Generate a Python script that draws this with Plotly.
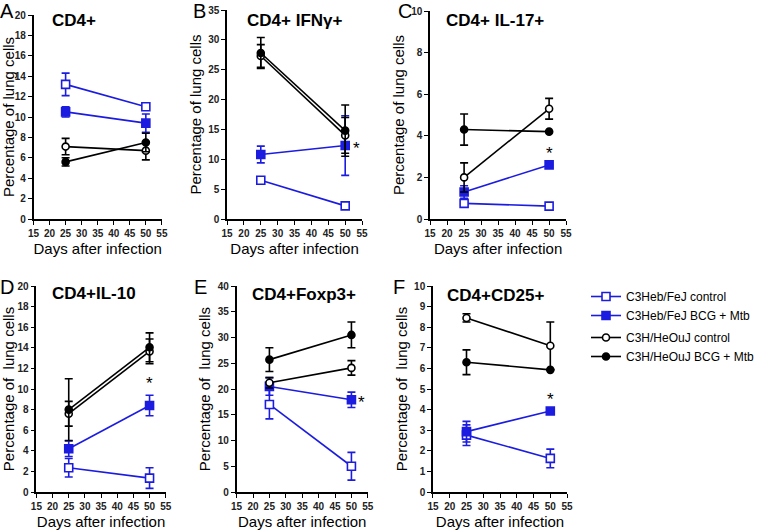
import plotly.graph_objects as go

# days sampled
DAYS = [25, 50]

SERIES = ["C3Heb/FeJ control", "C3Heb/FeJ BCG + Mtb",
          "C3H/HeOuJ control", "C3H/HeOuJ BCG + Mtb"]

# mean values, one row per series (order as SERIES)
A_MEAN = [[13.2, 11.0], [10.5, 9.4], [7.1, 6.7], [5.6, 7.5]]
A_ERR = [[1.1, 0.2], [0.5, 0.9], [0.8, 0.9], [0.4, 0.9]]

B_MEAN = [[6.5, 2.2], [10.8, 12.3], [27.3, 14.0], [27.8, 14.8]]
B_ERR = [[0.5, 0.3], [1.4, 5.0], [1.9, 3.0], [2.6, 4.3]]

C_MEAN = [[0.75, 0.62], [1.3, 2.6], [2.0, 5.3], [4.3, 4.2]]
C_ERR = [[0.1, 0.05], [0.3, 0.0], [0.7, 0.5], [0.75, 0.0]]

D_MEAN = [[2.35, 1.35], [4.2, 8.4], [7.6, 13.65], [8.0, 14.05]]
D_ERR = [[0.9, 1.0], [0.75, 1.0], [1.2, 1.2], [3.0, 1.4]]

E_MEAN = [[17.0, 5.0], [20.5, 17.9], [21.2, 24.1], [25.7, 30.5]]
E_ERR = [[2.8, 2.7], [1.7, 1.5], [1.0, 1.4], [2.3, 2.5]]

F_MEAN = [[2.76, 1.63], [2.93, 3.93], [8.45, 7.1], [6.3, 5.93]]
F_ERR = [[0.5, 0.45], [0.5, 0.0], [0.2, 1.15], [0.6, 0.0]]

BLUE = "#1c1ce0"
FONT = "Liberation Sans, Arial, sans-serif"
NARROW = "Liberation Sans Narrow, Arial Narrow, Liberation Sans, Arial"

W, H = 760, 532


def dom_x(a, b):
    return [a / W, b / W]


def dom_y(top, bottom):
    return [1 - bottom / H, 1 - top / H]


panels = [
    # letter, title, means, errs, ymax, dtick, xdom(px), ydom(px), ytitle,
    # star, letter pos(px), title centre(px)
    ("A", "CD4+", A_MEAN, A_ERR, 20, 2, (35, 169), (15, 219),
     "Percentage of lung cells", None, (7, 11), (77, 20)),
    ("B", "CD4+ IFNγ+", B_MEAN, B_ERR, 35, 5, (237, 378), (10, 219),
     "Percentage of lung cells", "right", (208, 11), (307, 20)),
    ("C", "CD4+ IL-17+", C_MEAN, C_ERR, 10, 2, (449, 591), (11, 219),
     "Percentage of lung cells", "top", (423, 11), (517, 20)),
    ("D", "CD4+IL-10", D_MEAN, D_ERR, 20, 2, (38, 173), (286, 492),
     "Percentage of  lung cells", "top", (7, 287), (98, 293)),
    ("E", "CD4+Foxp3+", E_MEAN, E_ERR, 40, 5, (247, 384), (286, 492),
     "Percentage of  lung cells", "right", (209, 287), (317, 294)),
    ("F", "CD4+CD25+", F_MEAN, F_ERR, 10, 1, (452, 592), (286, 492),
     "Percentage of  lung cells", "top", (417, 287), (517, 295)),
]

styles = [
    dict(color=BLUE, symbol="square", fill="white", size=8),
    dict(color=BLUE, symbol="square", fill=BLUE, size=8),
    dict(color="black", symbol="circle", fill="white", size=7),
    dict(color="black", symbol="circle", fill="black", size=7),
]
groups = ["heb", "heb", "hou", "hou"]

fig = go.Figure()
layout = {}
annotations = []

for i, (letter, title, means, errs, ymax, dtick, xd, yd, ytitle, star,
        lpos, tpos) in enumerate(panels):
    n = "" if i == 0 else str(i + 1)
    xa, ya = "x" + n, "y" + n
    for s in range(4):
        st = styles[s]
        fig.add_trace(go.Scatter(
            x=DAYS, y=means[s], xaxis=xa, yaxis=ya,
            mode="lines+markers", name=SERIES[s],
            legendgroup=groups[s], showlegend=(i == 0),
            line=dict(color=st["color"], width=1.6),
            marker=dict(symbol=st["symbol"], size=st["size"], color=st["fill"],
                        line=dict(color=st["color"], width=1.6)),
            error_y=dict(type="data", array=errs[s], color=st["color"],
                         thickness=1.6, width=4),
        ))
    tickfont = dict(family=NARROW, size=10, color="#222", weight="bold")
    layout["xaxis" + n] = dict(
        domain=dom_x(*xd), anchor=ya, range=[15, 55], dtick=5, tick0=15,
        showline=True, linecolor="black", linewidth=1.5, ticks="outside",
        ticklen=4, tickwidth=1.2, tickcolor="black", showgrid=False,
        zeroline=False, tickfont=tickfont,
        title=dict(text="Days after infection", standoff=6,
                   font=dict(family=FONT, size=15, color="black")),
        automargin=False,
    )
    layout["yaxis" + n] = dict(
        domain=dom_y(*yd), anchor=xa, range=[0, ymax], dtick=dtick,
        showline=True, linecolor="black", linewidth=1.5, ticks="outside",
        ticklen=4, tickwidth=1.2, tickcolor="black", showgrid=False,
        zeroline=False, tickfont=tickfont,
        title=dict(text=ytitle, standoff=3,
                   font=dict(family=FONT, size=15, color="black")),
        automargin=False,
    )
    # panel letter
    annotations.append(dict(
        text=letter, xref="paper", yref="paper",
        x=lpos[0] / W, y=1 - lpos[1] / H,
        xanchor="center", yanchor="middle", showarrow=False,
        font=dict(family=FONT, size=20, color="black"),
    ))
    # panel title
    annotations.append(dict(
        text="<b>" + title + "</b>", xref="paper", yref="paper",
        x=tpos[0] / W, y=1 - tpos[1] / H,
        xanchor="center", yanchor="middle", showarrow=False,
        font=dict(family=FONT, size=17, color="black"),
    ))
    if star == "right":
        annotations.append(dict(
            text="*", xref=xa, yref=ya, x=53.2, y=means[1][1],
            showarrow=False, font=dict(family=FONT, size=17, color="black"),
            yshift=-3,
        ))
    elif star == "top":
        annotations.append(dict(
            text="*", xref=xa, yref=ya, x=50, y=means[1][1] + errs[1][1],
            showarrow=False, yanchor="bottom", yshift=0,
            font=dict(family=FONT, size=17, color="black"),
        ))

fig.update_layout(
    **layout,
    annotations=annotations,
    width=W, height=H,
    margin=dict(l=0, r=0, t=0, b=0),
    paper_bgcolor="white", plot_bgcolor="white",
    legend=dict(x=612 / W, y=1 - 282 / H, xanchor="left", yanchor="top",
                font=dict(family=FONT, size=12, color="black"),
                tracegroupgap=3, itemwidth=30, bgcolor="rgba(0,0,0,0)"),
    showlegend=True,
)

fig.write_html("out.html", config={"displayModeBar": False},
               post_script="document.body.style.margin='0px';")
